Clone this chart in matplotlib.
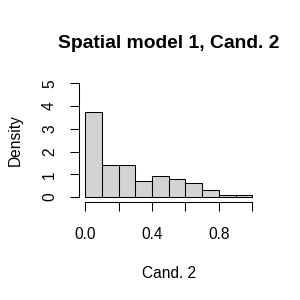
import numpy as np
import matplotlib.pyplot as plt

plt.rcParams['font.family'] = ['Liberation Sans', 'DejaVu Sans']

# histogram of candidate 2 (density scale)
bin_edges = [0.0, 0.1, 0.2, 0.3, 0.4, 0.5, 0.6, 0.7, 0.8, 0.9, 1.0]
density = [3.73, 1.40, 1.40, 0.69, 0.91, 0.79, 0.60, 0.29, 0.10, 0.10]
x_ticks = [0.0, 0.2, 0.4, 0.6, 0.8, 1.0]
x_labels = ['0.0', '', '0.4', '', '0.8', '']
y_ticks = [0, 1, 2, 3, 4, 5]

fig = plt.figure(figsize=(3, 3), dpi=100)
ax = fig.add_axes([0.262, 0.328, 0.601, 0.409])

ax.bar(bin_edges[:-1], density, width=np.diff(bin_edges), align='edge',
       color='#D3D3D3', edgecolor='black', linewidth=0.75)

ax.set_xlim(-0.04, 1.04)
ax.set_ylim(-0.2, 5.2)
for s in ['top', 'right']:
    ax.spines[s].set_visible(False)
ax.spines['left'].set_bounds(0, 5)
ax.spines['bottom'].set_bounds(0, 1)
for s in ['left', 'bottom']:
    ax.spines[s].set_linewidth(0.75)

ax.set_xticks(x_ticks)
ax.set_xticklabels(x_labels)
ax.set_yticks(y_ticks)
ax.set_yticklabels([str(v) for v in y_ticks], rotation=90, va='center')
ax.tick_params(axis='both', length=6.5, width=0.75, labelsize=11.2)
ax.tick_params(axis='x', pad=12)
ax.tick_params(axis='y', pad=9)

ax.set_title('Spatial model 1, Cand. 2', fontsize=13.9, fontweight='bold', pad=22)
fig.text(168.8 / 300, 1 - 273 / 300, 'Cand. 2', ha='center', va='center', fontsize=11.2)
fig.text(15 / 300, 1 - 140 / 300, 'Density', ha='center', va='center', rotation=90, fontsize=11.2)

fig.savefig('out.png', dpi=100)
